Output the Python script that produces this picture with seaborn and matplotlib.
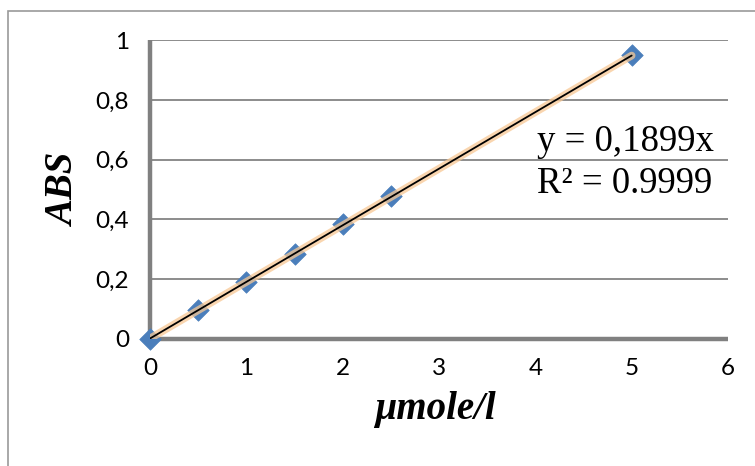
import matplotlib
matplotlib.use("Agg")
import matplotlib.pyplot as plt
import matplotlib.patheffects as pe
from matplotlib.patches import Rectangle
import seaborn as sns
import pandas as pd

# Calibration measurements
conc = [0, 0.5, 1, 1.5, 2, 2.5, 5]
absorbance = [0.0, 0.095, 0.19, 0.284, 0.383, 0.477, 0.95]
slope = 0.1899
r_squared = "0.9999"

x_ticks = [0, 1, 2, 3, 4, 5, 6]
y_ticks = [0, 0.2, 0.4, 0.6, 0.8, 1.0]
y_tick_labels = ["0", "0,2", "0,4", "0,6", "0,8", "1"]

points = pd.DataFrame({"conc": conc, "abs": absorbance})
fit_x = [0, 5]
trend = pd.DataFrame({"conc": fit_x, "abs": [slope * v for v in fit_x]})

sns.set_theme(style="white")
plt.rcParams["font.family"] = ["Lato", "DejaVu Sans"]

fig = plt.figure(figsize=(7.55, 4.66), dpi=100)
fig.patch.set_facecolor("white")

# chart frame (open on right and bottom)
fig.patches.append(Rectangle((8 / 755, -0.1), 1.2, 1 - 11 / 466 + 0.1,
                             transform=fig.transFigure, fill=False,
                             edgecolor="#9a9a9a", linewidth=1.2, zorder=0))

ax = fig.add_axes([150 / 755, 1 - 338.5 / 466, 578 / 755, 298 / 466])
ax.set_facecolor("white")

# horizontal gridlines
for yv in y_ticks[1:]:
    ax.axhline(yv, color="#8c8c8c", linewidth=1.4, zorder=1)

sns.scatterplot(data=points, x="conc", y="abs", ax=ax, marker="D", s=120,
                color="#4a7ebb", edgecolor="#4a7ebb", linewidth=0.5, zorder=3,
                clip_on=False)

# trendline with soft orange glow
sns.lineplot(data=trend, x="conc", y="abs", ax=ax, color="black", linewidth=1.3,
             zorder=4,
             path_effects=[pe.Stroke(linewidth=5.5, foreground="#f8c894", alpha=0.75),
                           pe.Normal()])

ax.set_xlim(0, 6)
ax.set_ylim(0, 1)
ax.set_xticks(x_ticks)
ax.set_xticklabels([str(v) for v in x_ticks])
ax.set_yticks(y_ticks)
ax.set_yticklabels(y_tick_labels)

for side in ["top", "right"]:
    ax.spines[side].set_visible(False)
for side in ["left", "bottom"]:
    ax.spines[side].set_color("#808080")
    ax.spines[side].set_linewidth(3.2)
    ax.spines[side].set_capstyle("butt")

ax.tick_params(axis="both", which="major", direction="out", length=6, width=3.2,
               color="#808080", labelsize=17.5, labelcolor="black")
ax.tick_params(axis="y", pad=9)
ax.tick_params(axis="x", pad=8)

ax.set_xlabel("µmole/l", fontfamily="Liberation Serif", fontsize=28,
              fontweight="bold", fontstyle="italic", color="black")
ax.set_ylabel("ABS", fontfamily="Liberation Serif", fontsize=28,
              fontweight="bold", fontstyle="italic", color="black")
ax.xaxis.set_label_coords((435 - 150) / 578, (338.5 - 410) / 298)
ax.xaxis.label.set_va("center")
ax.yaxis.set_label_coords((65 - 150) / 578, (338.5 - 190) / 298)
ax.yaxis.label.set_va("center")

ax.text((537 - 150) / 578, (338.5 - 151) / 298, f"y = {str(slope).replace('.', ',')}x",
        transform=ax.transAxes, fontfamily="Liberation Serif", fontsize=26.5,
        ha="left", va="baseline", color="black")
ax.text((537 - 150) / 578, (338.5 - 193) / 298, f"R² = {r_squared}",
        transform=ax.transAxes, fontfamily="Liberation Serif", fontsize=26.5,
        ha="left", va="baseline", color="black")

fig.savefig("out.png", dpi=100, facecolor="white")
